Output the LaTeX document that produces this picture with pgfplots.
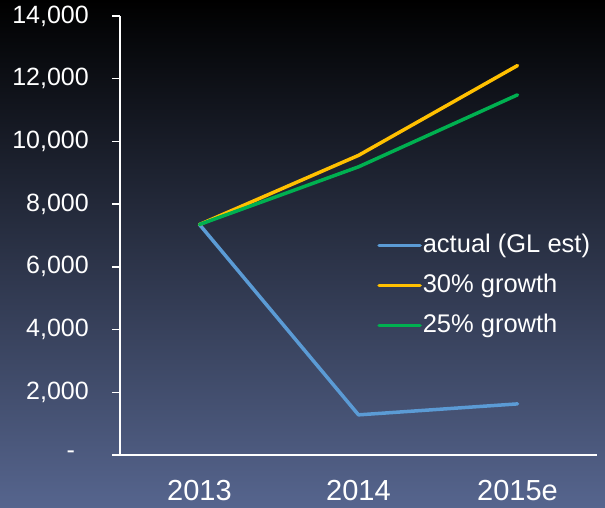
\documentclass[border=0pt]{standalone}
\usepackage{pgfplots}
\pgfplotsset{compat=1.18}
\usepackage{fontspec}
\setmainfont{Liberation Sans}
\definecolor{bgtop}{RGB}{0,0,0}
\definecolor{bgmid}{RGB}{28,32,72}
\definecolor{bgbot}{RGB}{86,101,142}
\definecolor{cactual}{RGB}{91,155,213}
\definecolor{cthirty}{RGB}{255,192,0}
\definecolor{ctwentyfive}{RGB}{0,176,80}
\begin{document}
\begin{tikzpicture}
\useasboundingbox (0,0) rectangle (605bp,508bp);
\shade[top color=bgtop, middle color=bgmid, bottom color=bgbot] (0,0) rectangle (605bp,508bp);
\begin{axis}[
  at={(120bp,53bp)}, anchor=south west,
  scale only axis, width=477bp, height=439bp,
  xmin=-0.5, xmax=2.5, ymin=0, ymax=14000,
  axis lines*=left,
  axis line style={white, line width=1.5bp},
  tick style={white, line width=1.5bp},
  tick align=outside,
  major tick length=8bp,
  scaled y ticks=false,
  ytick={0,2000,4000,6000,8000,10000,12000,14000},
  yticklabels={-\hphantom{0},{2,000},{4,000},{6,000},{8,000},{10,000},{12,000},{14,000}},
  y tick label style={font=\fontsize{25bp}{30bp}\selectfont, text=white, anchor=east, inner sep=0pt, xshift=-23bp},
  xtick={0,1,2},
  xticklabels={2013,2014,2015e},
  x tick label style={font=\fontsize{29bp}{34bp}\selectfont, text=white, anchor=base, inner sep=0pt, yshift=-37bp},
  xtick style={draw=none},
  extra x ticks={-0.5,0.5,1.5,2.5},
  extra x tick labels={},
  extra x tick style={major tick length=10bp, tick style={white, line width=1.5bp}},
  legend cell align=left,
  legend image code/.code={\draw[#1, line width=3.5bp] (0bp,0bp) -- (41bp,0bp);},
  legend style={at={(0.539,0.508)}, anchor=north west, draw=none, fill=none, inner sep=0pt,
    text=white, font=\fontsize{25.5bp}{30bp}\selectfont, row sep=13bp,
    nodes={inner sep=1bp, text height=19bp, text depth=6bp},
    /tikz/every even column/.append style={column sep=-3bp}},
  /pgf/number format/assume math mode=true,
]
\addplot[cactual, line width=3.5bp, line join=round, line cap=round] coordinates {(0,7350) (1,1280) (2,1630)};
\addlegendentry{actual (GL est)}
\addplot[cthirty, line width=3.5bp, line join=round, line cap=round] coordinates {(0,7350) (1,9555) (2,12420)};
\addlegendentry{30\% growth}
\addplot[ctwentyfive, line width=3.5bp, line join=round, line cap=round] coordinates {(0,7350) (1,9190) (2,11485)};
\addlegendentry{25\% growth}
\end{axis}
\end{tikzpicture}
\end{document}
